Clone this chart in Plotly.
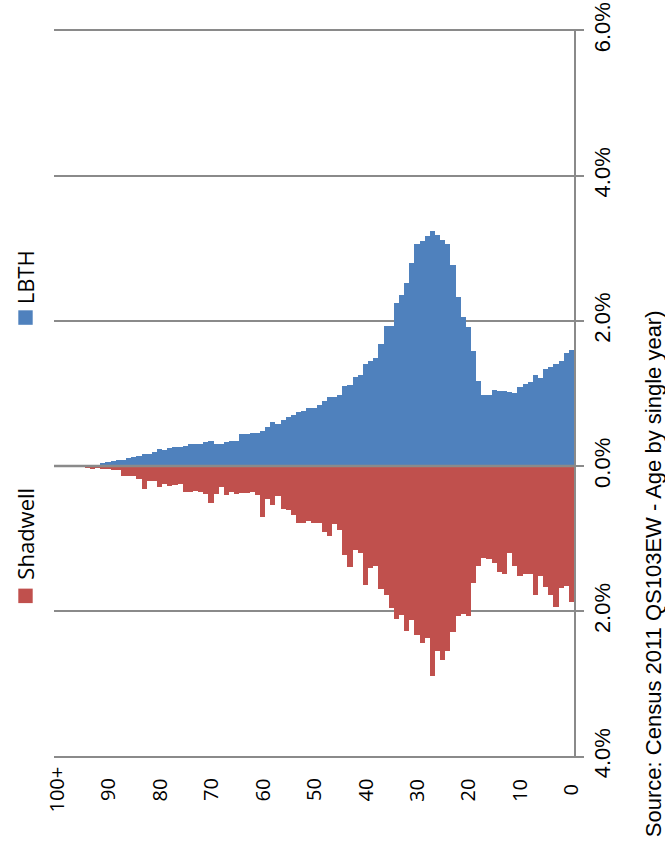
import plotly.graph_objects as go

# ---------------- data (percent of population, by single year of age) ----------------
ages = list(range(0, 101))
age_tick_vals = [0, 10, 20, 30, 40, 50, 60, 70, 80, 90, 100]
age_tick_text = ["0", "10", "20", "30", "40", "50", "60", "70", "80", "90", "100+"]

lbth = [
    1.60, 1.56, 1.45, 1.40, 1.36, 1.34, 1.22, 1.25, 1.16, 1.13,   # 0-9
    1.09, 1.01, 1.02, 1.03, 1.04, 1.05, 0.98, 0.98, 1.17, 1.58,   # 10-19
    1.91, 2.05, 2.33, 2.77, 3.06, 3.11, 3.18, 3.24, 3.17, 3.10,   # 20-29
    3.06, 2.80, 2.52, 2.36, 2.24, 1.93, 1.93, 1.68, 1.49, 1.45,   # 30-39
    1.41, 1.25, 1.23, 1.12, 1.11, 0.98, 0.95, 0.95, 0.90, 0.84,   # 40-49
    0.80, 0.80, 0.76, 0.74, 0.71, 0.68, 0.64, 0.58, 0.61, 0.54,   # 50-59
    0.49, 0.46, 0.46, 0.44, 0.44, 0.35, 0.34, 0.33, 0.31, 0.30,   # 60-69
    0.34, 0.33, 0.30, 0.30, 0.30, 0.28, 0.27, 0.26, 0.25, 0.22,   # 70-79
    0.23, 0.20, 0.17, 0.17, 0.14, 0.12, 0.105, 0.087, 0.08, 0.07, # 80-89
    0.06, 0.037, 0.02, 0.015, 0.01, 0.005, 0.004, 0.003, 0.002, 0.001,  # 90-99
    0.002,                                                         # 100+
]

shadwell = [
    1.87, 1.65, 1.68, 1.94, 1.78, 1.66, 1.52, 1.78, 1.49, 1.49,   # 0-9
    1.51, 1.37, 1.20, 1.48, 1.46, 1.34, 1.28, 1.26, 1.37, 1.61,   # 10-19
    2.06, 2.04, 2.07, 2.28, 2.54, 2.67, 2.55, 2.89, 2.37, 2.44,   # 20-29
    2.33, 2.12, 2.27, 2.05, 2.10, 1.95, 1.77, 1.69, 1.37, 1.40,   # 30-39
    1.64, 1.19, 1.16, 1.39, 1.22, 0.88, 0.80, 0.96, 0.91, 0.78,   # 40-49
    0.78, 0.75, 0.78, 0.78, 0.67, 0.60, 0.59, 0.41, 0.54, 0.45,   # 50-59
    0.70, 0.40, 0.36, 0.37, 0.37, 0.39, 0.36, 0.40, 0.29, 0.38,   # 60-69
    0.51, 0.38, 0.36, 0.34, 0.36, 0.36, 0.24, 0.26, 0.27, 0.25,   # 70-79
    0.29, 0.20, 0.20, 0.32, 0.18, 0.13, 0.13, 0.13, 0.055, 0.05,  # 80-89
    0.04, 0.045, 0.03, 0.04, 0.02, 0.0, 0.0, 0.0, 0.0, 0.0,       # 90-99
    0.0,                                                           # 100+
]

value_tick_vals = [-4, -2, 0, 2, 4, 6]
value_tick_text = ["4.0%", "2.0%", "0.0%", "2.0%", "4.0%", "6.0%"]

series_names = ["LBTH", "Shadwell"]
source_text = "Source: Census 2011 QS103EW - Age by single year)"

# ---------------- styling / layout ----------------
W, H = 665, 847
ML, MR, MT, MB = 54, 91, 28.5, 89
Y_RANGE = [-4.02, 6.02]
BLUE = "#4F81BD"
RED = "#C0504D"
GRID = "#8A8A8A"


def px_x(px):
    return (px - ML) / (W - ML - MR)


def px_y(py):
    return (H - MB - py) / (H - MT - MB)


fig = go.Figure()
fig.add_trace(go.Bar(x=ages, y=lbth, name=series_names[0], marker=dict(color=BLUE, line=dict(width=0)),
                     showlegend=False))
fig.add_trace(go.Bar(x=ages, y=[-v for v in shadwell], base=0, name=series_names[1],
                     marker=dict(color=RED, line=dict(width=0)), showlegend=False))

fig.update_layout(
    width=W, height=H,
    margin=dict(l=ML, r=MR, t=MT, b=MB, pad=0, autoexpand=False),
    paper_bgcolor="white", plot_bgcolor="white",
    barmode="overlay", bargap=0,
    showlegend=False,
    xaxis=dict(
        range=[100.5, -0.5], automargin=False,
        showticklabels=False, ticks="", showgrid=False, zeroline=False, showline=False,
    ),
    yaxis=dict(
        range=Y_RANGE, side="right", automargin=False,
        tickmode="array", tickvals=value_tick_vals, ticktext=value_tick_text,
        tickangle=-90,
        showgrid=True, gridcolor=GRID, gridwidth=2,
        zeroline=False,
        showline=True, linecolor=GRID, linewidth=2,
        ticks="outside", ticklen=8, tickwidth=2, tickcolor=GRID,
        tickfont=dict(family="Liberation Sans", size=22, color="#000000"),
        ticklabelstandoff=0,
    ),
)

# zero (category) axis line drawn over the bars
fig.add_shape(type="line", xref="paper", yref="y", x0=0, x1=1, y0=0, y1=0,
              line=dict(color=GRID, width=2.5), layer="above")

# age labels, centred (rotated) below the plot, placed on the x axis scale
for val, txt in zip(age_tick_vals, age_tick_text):
    fig.add_annotation(text=txt, xref="x", yref="paper", x=val, y=px_y(790),
                       xanchor="center", yanchor="middle", textangle=-90, showarrow=False,
                       font=dict(family="Open Sans", size=20, color="#000000"))

# manual rotated legend
legend_items = [
    (series_names[0], BLUE, 310, 324.5, (252 + 302) / 2),
    (series_names[1], RED, 588.5, 603, (485 + 582) / 2),
]
for name, col, sq_top, sq_bot, text_mid in legend_items:
    fig.add_shape(type="rect", xref="paper", yref="paper",
                  x0=px_x(18.3), x1=px_x(32.7), y0=px_y(sq_bot), y1=px_y(sq_top),
                  fillcolor=col, line=dict(width=0), layer="above")
    fig.add_annotation(text=name, xref="paper", yref="paper",
                       x=px_x(25), y=px_y(text_mid), xanchor="center", yanchor="middle",
                       textangle=-90, showarrow=False,
                       font=dict(family="Open Sans", size=22, color="#000000"))

# source note
fig.add_annotation(text=source_text, xref="paper", yref="paper",
                   x=px_x(653), y=px_y((305 + 843) / 2), xanchor="center", yanchor="middle",
                   textangle=-90, showarrow=False,
                   font=dict(family="Liberation Sans", size=22, color="#000000"))

fig.write_html("out.html", config={"displayModeBar": False},
               post_script="document.body.style.margin='0';document.body.style.overflow='hidden';")
